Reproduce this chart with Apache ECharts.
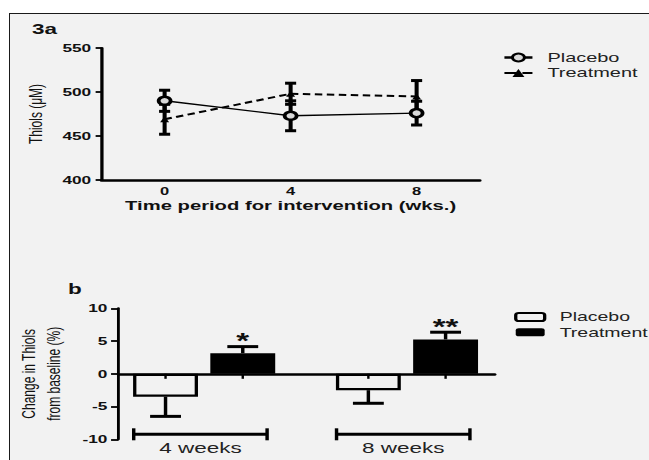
<!DOCTYPE html>
<html><head><meta charset="utf-8">
<script src="https://cdn.jsdelivr.net/npm/echarts@6/dist/echarts.min.js"></script>
<style>
html,body{margin:0;padding:0;background:#fff;width:649px;height:460px;overflow:hidden;}
#frame{position:absolute;left:9px;top:13px;width:660px;height:470px;background:#f2f2f2;border-top:1.5px solid #1a1a1a;border-left:1.5px solid #1a1a1a;}
#chart{position:absolute;left:0;top:0;width:433px;height:460px;transform:scaleX(1.4988);transform-origin:0 0;}
</style></head><body>
<div id="frame"></div><div id="chart"></div>
<script>
// ---- Panel 3a data ----
const timePoints = ['0', '4', '8'];
const placeboThiols = [490, 473, 476];
const placeboThiolsErr = [12, 17, 13.5];
const treatmentThiols = [469, 498, 495];
const treatmentThiolsErr = [17, 12, 18];
const thiolTicks = [400, 450, 500, 550];

// ---- Panel b data ----
const periods = ['4 weeks', '8 weeks'];
const placeboChange = [-3.5, -2.5];
const placeboChangeErr = [3.0, 2.0];
const treatmentChange = [3.15, 5.25];
const treatmentChangeErr = [1.0, 1.1];
const significance = ['', ''];
const treatmentSignificance = ['*', '**'];
const changeTicks = [-10, -5, 0, 5, 10];

const FONT = "'Liberation Sans', Arial, Helvetica, sans-serif";
const INK = '#111';
const BG = '#f2f2f2';

const BAR_W = 43.3;
const BAR_GAP = 0.19;
const barOffset = BAR_W / 2 + BAR_W * BAR_GAP / 2;

const chart = echarts.init(document.getElementById('chart'), null, {renderer: 'svg'});

function lineErrRender(params, api) {
  const x = api.value(0), lo = api.value(1), hi = api.value(2);
  const a = api.coord([x, lo]), b = api.coord([x, hi]);
  const cw = 3.7;
  return {type: 'group', children: [
    {type: 'line', shape: {x1: a[0], y1: a[1], x2: b[0], y2: b[1]}, style: {stroke: '#000', lineWidth: 2.7}},
    {type: 'line', shape: {x1: a[0] - cw, y1: a[1], x2: a[0] + cw, y2: a[1]}, style: {stroke: '#000', lineWidth: 3}},
    {type: 'line', shape: {x1: b[0] - cw, y1: b[1], x2: b[0] + cw, y2: b[1]}, style: {stroke: '#000', lineWidth: 3}}
  ]};
}

function barErrRender(offset, stars) {
  return function (params, api) {
    const g = api.value(0), v = api.value(1), e = api.value(2);
    const end = v >= 0 ? v + e : v - e;
    const p0 = api.coord([g, v]), p1 = api.coord([g, end]), z = api.coord([g, 0]);
    const x = p0[0] + offset;
    const cw = 10.3;
    const children = [
      {type: 'line', shape: {x1: x, y1: p0[1], x2: x, y2: p1[1]}, style: {stroke: '#000', lineWidth: 2.3}},
      {type: 'line', shape: {x1: x - cw, y1: p1[1], x2: x + cw, y2: p1[1]}, style: {stroke: '#000', lineWidth: 3}},
      {type: 'line', shape: {x1: x, y1: z[1], x2: x, y2: z[1] + 5}, style: {stroke: '#000', lineWidth: 1.6}}
    ];
    const s = stars[params.dataIndex];
    if (s) {
      children.push({type: 'text', x: x, y: p1[1] - 6, style: {text: s, fill: INK, font: 'bold 22px ' + FONT, textAlign: 'center', textVerticalAlign: 'middle'}});
    }
    return {type: 'group', children: children};
  };
}

function bracketRender(params, api) {
  const g = api.value(0);
  const c = api.coord([g, -10]);
  const x1 = c[0] - 47, x2 = c[0] + 42, y = c[1] - 5;
  return {type: 'group', children: [
    {type: 'line', shape: {x1: x1, y1: y, x2: x2, y2: y}, style: {stroke: '#000', lineWidth: 3}},
    {type: 'line', shape: {x1: x1, y1: y - 6, x2: x1, y2: y + 6}, style: {stroke: '#000', lineWidth: 2.3}},
    {type: 'line', shape: {x1: x2, y1: y - 6, x2: x2, y2: y + 6}, style: {stroke: '#000', lineWidth: 2.3}},
    {type: 'text', x: (x1 + x2) / 2, y: c[1] + 8.5, style: {text: periods[params.dataIndex], fill: '#222', font: '15px ' + FONT, textAlign: 'center', textVerticalAlign: 'middle'}}
  ]};
}

const groupPos = periods.map((p, i) => i + 1);

const option = {
  animation: false,
  backgroundColor: 'transparent',
  title: [
    {text: '3a', left: 21.3, top: 21, padding: 0, textStyle: {fontSize: 15, fontWeight: 'bold', color: INK, fontFamily: FONT}},
    {text: 'b', left: 45.3, top: 281, padding: 0, textStyle: {fontSize: 15, fontWeight: 'bold', color: INK, fontFamily: FONT}}
  ],
  legend: [
    {
      data: [
        {name: 'Placebo', lineStyle: {width: 2.5, type: 'solid', color: '#000'}},
        {name: 'Treatment', lineStyle: {width: 2, type: 'dashed', color: '#000'}}
      ],
      orient: 'vertical', left: 335.3, top: 50, padding: 0, itemGap: 0.4,
      itemWidth: 18.7, itemHeight: 10, selectedMode: false,
      textStyle: {fontSize: 13.3, lineHeight: 15, color: '#222', fontFamily: FONT, padding: [0, 0, 0, 5]}
    },
    {
      data: [
        {name: 'Placebo (b)', itemStyle: {color: BG, borderColor: '#000', borderWidth: 2.2}},
        {name: 'Treatment (b)', itemStyle: {color: '#000', borderWidth: 0}}
      ],
      formatter: n => n.replace(' (b)', ''),
      icon: 'roundRect',
      orient: 'vertical', left: 343, top: 309.5, padding: 0, itemGap: 0.3,
      itemWidth: 19.3, itemHeight: 8, selectedMode: false,
      textStyle: {fontSize: 13, lineHeight: 15, color: '#222', fontFamily: FONT, padding: [0, 0, 0, 5]}
    }
  ],
  grid: [
    {left: 67.8, top: 48, width: 252.2, height: 132, containLabel: false, outerBoundsMode: 'none'},
    {left: 79.1, top: 308.3, width: 250.9, height: 131, containLabel: false, outerBoundsMode: 'none'}
  ],
  xAxis: [
    {
      gridIndex: 0, type: 'category', data: timePoints, boundaryGap: true,
      axisLine: {lineStyle: {color: '#000', width: 2.7}},
      axisTick: {alignWithLabel: true, length: 4, lineStyle: {color: '#000', width: 1.8}},
      axisLabel: {margin: 6, fontSize: 11, fontWeight: 'bold', color: INK, fontFamily: FONT},
      name: 'Time period for intervention (wks.)', nameLocation: 'middle', nameGap: 18,
      nameTextStyle: {fontSize: 13.5, fontWeight: 'bold', color: INK, fontFamily: FONT}
    },
    {
      gridIndex: 1, type: 'value', min: 0.578, max: 2.432,
      axisLine: {onZero: true, lineStyle: {color: '#000', width: 2.5}},
      axisTick: {show: false}, axisLabel: {show: false}, splitLine: {show: false}
    }
  ],
  yAxis: [
    {
      gridIndex: 0, type: 'value', min: thiolTicks[0], max: thiolTicks[thiolTicks.length - 1], interval: 50,
      axisLine: {show: true, onZero: false, lineStyle: {color: '#000', width: 2.2}},
      axisTick: {show: true, length: 4, lineStyle: {color: '#000', width: 1.8}},
      axisLabel: {margin: 7, fontSize: 11.5, fontWeight: 'bold', color: INK, fontFamily: FONT},
      splitLine: {show: false},
      name: 'Thiols (\u03bcM)', nameLocation: 'middle', nameGap: 30, nameRotate: 90,
      nameTextStyle: {fontSize: 12, color: INK, fontFamily: FONT, lineHeight: 14}
    },
    {
      gridIndex: 1, type: 'value', min: changeTicks[0], max: changeTicks[changeTicks.length - 1], interval: 5,
      axisLine: {show: true, onZero: false, lineStyle: {color: '#000', width: 1.9}},
      axisTick: {show: true, length: 5, lineStyle: {color: '#000', width: 1.8}},
      axisLabel: {margin: 7.5, fontSize: 11.5, fontWeight: 'bold', color: INK, fontFamily: FONT},
      splitLine: {show: false},
      name: 'Change in Thiols\nfrom baseline (%)', nameLocation: 'middle', nameGap: 19, nameRotate: 90,
      nameTextStyle: {fontSize: 12, color: INK, fontFamily: FONT, lineHeight: 16.7}
    }
  ],
  series: [
    {
      type: 'custom', name: 'Placebo err', xAxisIndex: 0, yAxisIndex: 0, z: 2,
      renderItem: lineErrRender, encode: {x: 0, y: [1, 2]},
      data: placeboThiols.map((v, i) => [i, v - placeboThiolsErr[i], v + placeboThiolsErr[i]])
    },
    {
      type: 'custom', name: 'Treatment err', xAxisIndex: 0, yAxisIndex: 0, z: 2,
      renderItem: lineErrRender, encode: {x: 0, y: [1, 2]},
      data: treatmentThiols.map((v, i) => [i, v - treatmentThiolsErr[i], v + treatmentThiolsErr[i]])
    },
    {
      type: 'line', name: 'Placebo', xAxisIndex: 0, yAxisIndex: 0, z: 4,
      data: placeboThiols,
      symbol: 'circle', symbolSize: 8,
      lineStyle: {color: '#000', width: 1.4},
      itemStyle: {color: '#d9d9d9', borderColor: '#000', borderWidth: 2.5}
    },
    {
      type: 'line', name: 'Treatment', xAxisIndex: 0, yAxisIndex: 0, z: 3,
      data: treatmentThiols,
      symbol: 'triangle', symbolSize: 6,
      lineStyle: {color: '#000', width: 2, type: [5, 3]},
      itemStyle: {color: '#000', borderColor: '#000', borderWidth: 0}
    },
    {
      type: 'bar', name: 'Placebo (b)', xAxisIndex: 1, yAxisIndex: 1,
      data: placeboChange.map((v, i) => [groupPos[i], v]),
      barWidth: BAR_W, barGap: (BAR_GAP * 100) + '%',
      itemStyle: {color: BG, borderColor: '#000', borderWidth: 2.2}
    },
    {
      type: 'bar', name: 'Treatment (b)', xAxisIndex: 1, yAxisIndex: 1,
      data: treatmentChange.map((v, i) => [groupPos[i], v]),
      barWidth: BAR_W, barGap: (BAR_GAP * 100) + '%',
      itemStyle: {color: '#000'}
    },
    {
      type: 'custom', name: 'Placebo change err', xAxisIndex: 1, yAxisIndex: 1, z: 5,
      renderItem: barErrRender(-barOffset, significance), encode: {x: 0, y: 1},
      data: placeboChange.map((v, i) => [groupPos[i], v, placeboChangeErr[i]])
    },
    {
      type: 'custom', name: 'Treatment change err', xAxisIndex: 1, yAxisIndex: 1, z: 5,
      renderItem: barErrRender(barOffset, treatmentSignificance), encode: {x: 0, y: 1},
      data: treatmentChange.map((v, i) => [groupPos[i], v, treatmentChangeErr[i]])
    },
    {
      type: 'custom', name: 'Periods', xAxisIndex: 1, yAxisIndex: 1, z: 5,
      renderItem: bracketRender, encode: {x: 0},
      data: groupPos.map(g => [g])
    }
  ]
};
chart.setOption(option);
</script>
</body></html>
